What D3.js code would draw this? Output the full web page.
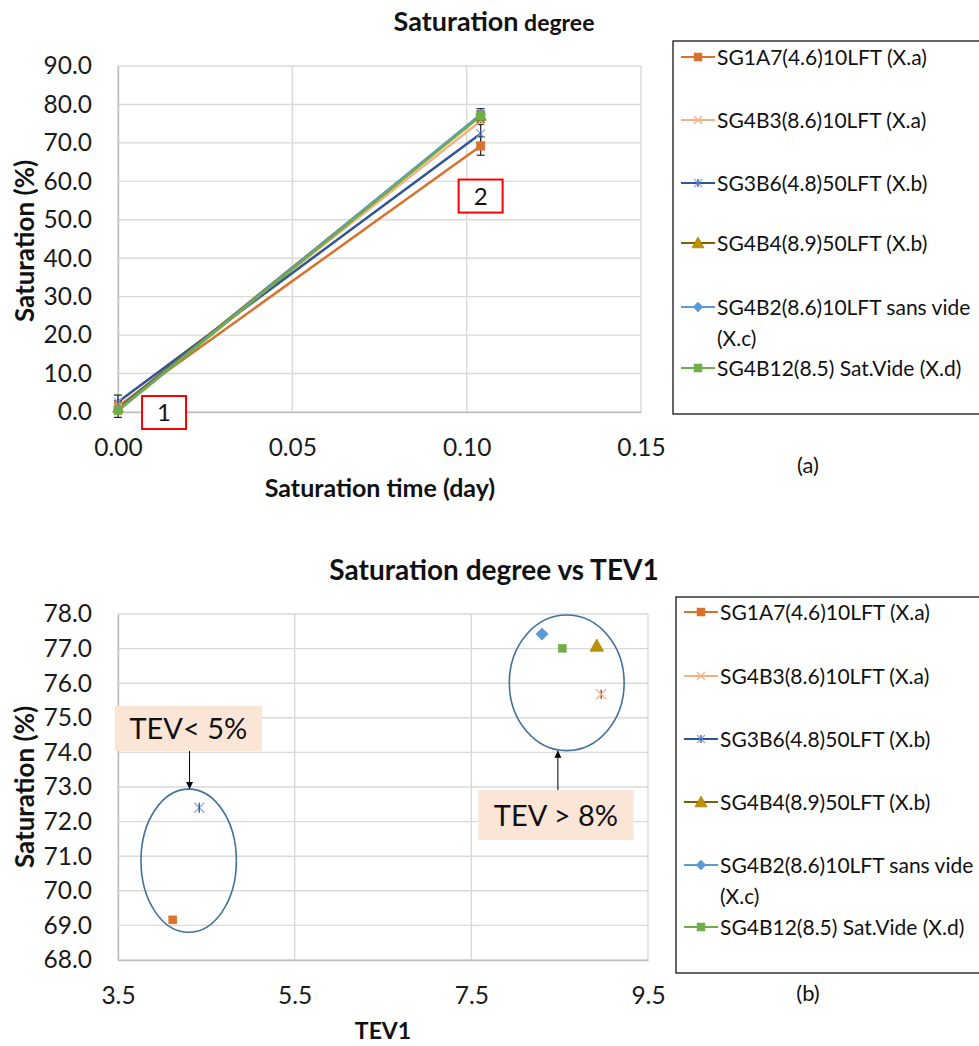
<!DOCTYPE html>
<html>
<head>
<meta charset="utf-8">
<script src="https://cdn.jsdelivr.net/npm/d3@7"></script>
<style>
  html, body { margin: 0; padding: 0; background: #fff; }
  svg { display: block; font-family: Lato, "Open Sans", sans-serif; }
</style>
</head>
<body>
<svg id="fig" width="979" height="1046"></svg>
<script>
// ---- data ----
const seriesNames = [
  "SG1A7(4.6)10LFT (X.a)",
  "SG4B3(8.6)10LFT (X.a)",
  "SG3B6(4.8)50LFT (X.b)",
  "SG4B4(8.9)50LFT (X.b)",
  "SG4B2(8.6)10LFT sans vide (X.c)",
  "SG4B12(8.5) Sat.Vide (X.d)"
];
const timeDays = [0, 0.104];
// saturation (%) at each time, one row per series
const satStart = [1.5, 1.2, 2.6, 1.0, 0.5, 0.3];
const satEnd   = [69.2, 75.7, 72.4, 77.1, 77.4, 77.0];
const errStart = [2.9, 0.3, 0.3, 0.3, 0.3, 0.3];
const errEnd   = [2.4, 0.3, 2.4, 1.2, 1.5, 0.5];
// TEV1 of each specimen and its final saturation
const tev1     = [4.12, 8.97, 4.42, 8.92, 8.30, 8.53];
const satTev   = [69.16, 75.68, 72.40, 77.08, 77.42, 77.01];
const errTev   = [0, 0.13, 0, 0, 0, 0];

const timeTicks = [0, 0.05, 0.10, 0.15];
const satTicks  = [0, 10, 20, 30, 40, 50, 60, 70, 80, 90];
const tevTicks  = [3.5, 5.5, 7.5, 9.5];
const satTevTicks = [68, 69, 70, 71, 72, 73, 74, 75, 76, 77, 78];

// ---- styles ----
const lineColors   = ["#D9712D", "#F4B183", "#2F5597", "#7F6000", "#5B9BD5", "#70AD47"];
const markerFill   = ["#D9712D", "none", "none", "#BF9000", "#5B9BD5", "#70AD47"];
const markerStroke = ["#D9712D", "#F4B183", "#8FAADC", "#BF9000", "#5B9BD5", "#70AD47"];
const markerType   = ["square", "x", "star", "triangle", "diamond", "square"];

const svg = d3.select("#fig");
const defs = svg.append("defs");
defs.append("marker").attr("id", "ah").attr("viewBox", "0 0 10 10").attr("refX", 10).attr("refY", 5)
  .attr("markerWidth", 7).attr("markerHeight", 8).attr("orient", "auto")
  .append("path").attr("d", "M0,0L10,5L0,10Z").attr("fill", "#000");

function marker(g, i, cx, cy, s) {
  const t = markerType[i];
  const f = markerFill[i], st = markerStroke[i];
  const h = s / 2;
  if (t === "square") {
    g.append("rect").attr("x", cx - h).attr("y", cy - h).attr("width", s).attr("height", s)
      .attr("fill", f).attr("stroke", st).attr("stroke-width", 0.5);
  } else if (t === "diamond") {
    const d = h * 1.25;
    g.append("path").attr("d", `M${cx},${cy - d}L${cx + d},${cy}L${cx},${cy + d}L${cx - d},${cy}Z`)
      .attr("fill", f).attr("stroke", st).attr("stroke-width", 0.5);
  } else if (t === "triangle") {
    const d = h * 1.35;
    g.append("path").attr("d", `M${cx},${cy - d}L${cx + d},${cy + d * 0.8}L${cx - d},${cy + d * 0.8}Z`)
      .attr("fill", f).attr("stroke", "#9C7600").attr("stroke-width", 0.6);
  } else if (t === "x" || t === "star") {
    g.append("path").attr("d", `M${cx - h},${cy - h}L${cx + h},${cy + h}M${cx - h},${cy + h}L${cx + h},${cy - h}`)
      .attr("stroke", st).attr("stroke-width", 1.3).attr("fill", "none");
    if (t === "star") {
      g.append("path").attr("d", `M${cx},${cy - h}L${cx},${cy + h}`)
        .attr("stroke", "#2F5597").attr("stroke-width", 1.3);
    }
  }
}

function gridAndAxes(g, x, y, xTicks, yTicks, xFmt, yFmt) {
  const [x0, x1] = x.range();
  const [y0, y1] = y.range();
  g.append("g").selectAll("line").data(yTicks).join("line")
    .attr("x1", x0).attr("x2", x1).attr("y1", d => y(d)).attr("y2", d => y(d))
    .attr("stroke", "#D9D9D9").attr("stroke-width", 1.4);
  g.append("g").selectAll("line").data(xTicks).join("line")
    .attr("x1", d => x(d)).attr("x2", d => x(d)).attr("y1", y0).attr("y2", y1)
    .attr("stroke", "#D9D9D9").attr("stroke-width", 1.4);

  const ax = g.append("g").attr("transform", `translate(0,${y0})`)
    .call(d3.axisBottom(x).tickValues(xTicks).tickFormat(xFmt).tickSize(0).tickPadding(27));
  ax.select(".domain").attr("stroke", "#BFBFBF").attr("stroke-width", 1.4);
  ax.selectAll("text").attr("font-size", 24.5).attr("fill", "#1a1a1a").attr("font-family", "Lato");

  const ay = g.append("g").attr("transform", `translate(${x0},0)`)
    .call(d3.axisLeft(y).tickValues(yTicks).tickFormat(yFmt).tickSize(0).tickPadding(26));
  ay.select(".domain").attr("stroke", "#BFBFBF").attr("stroke-width", 1.4);
  ay.selectAll("text").attr("font-size", 24.5).attr("fill", "#1a1a1a").attr("font-family", "Lato");
}

function legend(g, x0, y0, w, h, rows) {
  g.append("rect").attr("x", x0).attr("y", y0).attr("width", w).attr("height", h)
    .attr("fill", "#fff").attr("stroke", "#000").attr("stroke-width", 1.2);
  rows.forEach((cy, i) => {
    const lx = x0 + 8;
    g.append("line").attr("x1", lx).attr("x2", lx + 34).attr("y1", cy).attr("y2", cy)
      .attr("stroke", lineColors[i]).attr("stroke-width", 2.2);
    marker(g, i, lx + 17, cy, i === 3 ? 9 : 8);
    const t = g.append("text").attr("x", lx + 36).attr("y", cy + 7.5)
      .attr("font-size", 21).attr("fill", "#111");
    const parts = seriesNames[i].includes("sans vide")
      ? ["SG4B2(8.6)10LFT sans vide", "(X.c)"] : [seriesNames[i]];
    parts.forEach((p, k) => t.append("tspan").attr("x", lx + 36).attr("dy", k === 0 ? 0 : 31).text(p));
  });
}

// ================= (a) saturation vs time =================
{
  const g = svg.append("g");
  const x = d3.scaleLinear().domain([0, 0.15]).range([118, 641]);
  const y = d3.scaleLinear().domain([0, 90]).range([412, 66]);
  gridAndAxes(g, x, y, timeTicks, satTicks, d3.format(".2f"), d3.format(".1f"));

  const line = d3.line().x(d => x(d[0])).y(d => y(d[1]));
  seriesNames.forEach((n, i) => {
    const pts = [[timeDays[0], satStart[i]], [timeDays[1], satEnd[i]]];
    g.append("path").attr("d", line(pts)).attr("fill", "none")
      .attr("stroke", lineColors[i]).attr("stroke-width", 2.5);
  });
  // error bars
  const errs = [];
  seriesNames.forEach((n, i) => {
    errs.push([timeDays[0], satStart[i], errStart[i]]);
    errs.push([timeDays[1], satEnd[i], errEnd[i]]);
  });
  const eb = g.append("g").attr("stroke", "#222").attr("stroke-width", 1.2);
  errs.forEach(([t, v, e]) => {
    const cx = x(t);
    eb.append("line").attr("x1", cx).attr("x2", cx).attr("y1", y(v - e)).attr("y2", y(v + e));
    eb.append("line").attr("x1", cx - 4).attr("x2", cx + 4).attr("y1", y(v + e)).attr("y2", y(v + e));
    eb.append("line").attr("x1", cx - 4).attr("x2", cx + 4).attr("y1", y(v - e)).attr("y2", y(v - e));
  });
  seriesNames.forEach((n, i) => {
    marker(g, i, x(timeDays[0]), y(satStart[i]), 8);
    marker(g, i, x(timeDays[1]), y(satEnd[i]), 8.5);
  });

  // step labels
  const steps = [{label: "1", t: 0.0132, v: 0.0}, {label: "2", t: 0.104, v: 56.3}];
  steps.forEach(s => {
    const cx = x(s.t), cy = y(s.v);
    g.append("rect").attr("x", cx - 22).attr("y", cy - 16).attr("width", 44).attr("height", 33)
      .attr("fill", "#fff").attr("stroke", "#FF0000").attr("stroke-width", 2);
    g.append("text").attr("x", cx).attr("y", cy + 9).attr("text-anchor", "middle")
      .attr("font-size", 24).attr("fill", "#111").text(s.label);
  });

  const title = g.append("text").attr("x", 494).attr("y", 31).attr("text-anchor", "middle")
    .attr("font-weight", "bold").attr("fill", "#111");
  title.append("tspan").attr("font-size", 27).text("Saturation");
  title.append("tspan").attr("font-size", 23).text(" degree");

  g.append("text").attr("x", 380).attr("y", 497).attr("text-anchor", "middle")
    .attr("font-weight", "bold").attr("font-size", 25).attr("fill", "#111").text("Saturation time (day)");
  g.append("text").attr("transform", "translate(34,241) rotate(-90)").attr("text-anchor", "middle")
    .attr("font-weight", "bold").attr("font-size", 26).attr("fill", "#111").text("Saturation (%)");

  legend(g, 673, 41, 330, 373, [57, 120, 183, 243, 307, 368]);
  g.append("text").attr("x", 808).attr("y", 473).attr("text-anchor", "middle")
    .attr("font-size", 22).attr("fill", "#111").text("(a)");
}

// ================= (b) saturation vs TEV1 =================
{
  const g = svg.append("g");
  const x = d3.scaleLinear().domain([3.5, 9.5]).range([118, 648]);
  const y = d3.scaleLinear().domain([68, 78]).range([960, 614]);
  gridAndAxes(g, x, y, tevTicks, satTevTicks, d3.format(".1f"), d3.format(".1f"));

  // groups of specimens by void content
  const groups = [
    {cx: 4.30, cy: 70.87, rx: 0.54, ry: 2.07},
    {cx: 8.58, cy: 76.01, rx: 0.65, ry: 1.96}
  ];
  groups.forEach(e => {
    g.append("ellipse").attr("cx", x(e.cx)).attr("cy", y(e.cy))
      .attr("rx", x(e.cx + e.rx) - x(e.cx)).attr("ry", y(e.cy) - y(e.cy + e.ry))
      .attr("fill", "none").attr("stroke", "#41719C").attr("stroke-width", 1.6);
  });

  seriesNames.forEach((n, i) => {
    if (errTev[i] > 0) {
      const cx = x(tev1[i]);
      g.append("line").attr("x1", cx).attr("x2", cx)
        .attr("y1", y(satTev[i] - errTev[i])).attr("y2", y(satTev[i] + errTev[i]))
        .attr("stroke", "#333").attr("stroke-width", 1.2);
    }
    marker(g, i, x(tev1[i]), y(satTev[i]), markerType[i] === "square" ? 8 : 10);
  });

  // callouts: box top-left corner (data units), box size (px), arrow x and tip value
  const callouts = [
    {text: "TEV< 5%", bx: 3.465, by: 75.34, bw: 147, bh: 45, ax: 4.31, tip: 72.94, up: false},
    {text: "TEV > 8%", bx: 7.58, by: 72.91, bw: 155, bh: 50, ax: 8.48, tip: 74.05, up: true}
  ];
  callouts.forEach(c => {
    const X = x(c.bx), Y = y(c.by);
    g.append("rect").attr("x", X).attr("y", Y).attr("width", c.bw).attr("height", c.bh).attr("fill", "#FBE5D6");
    g.append("text").attr("x", X + c.bw / 2).attr("y", Y + c.bh / 2 + 10.5).attr("text-anchor", "middle")
      .attr("font-size", 29).attr("fill", "#111").text(c.text);
    const start = c.up ? Y : Y + c.bh;
    g.append("line").attr("x1", x(c.ax)).attr("x2", x(c.ax)).attr("y1", start).attr("y2", y(c.tip))
      .attr("stroke", "#000").attr("stroke-width", 1).attr("marker-end", "url(#ah)");
  });

  g.append("text").attr("x", 494).attr("y", 580).attr("text-anchor", "middle")
    .attr("font-weight", "bold").attr("font-size", 28).attr("fill", "#111").text("Saturation degree vs TEV1");
  g.append("text").attr("x", 383).attr("y", 1039).attr("text-anchor", "middle")
    .attr("font-weight", "bold").attr("font-size", 23).attr("fill", "#111").text("TEV1");
  g.append("text").attr("transform", "translate(34,787) rotate(-90)").attr("text-anchor", "middle")
    .attr("font-weight", "bold").attr("font-size", 26).attr("fill", "#111").text("Saturation (%)");

  legend(g, 676, 597, 330, 376, [612, 676, 739, 802, 865, 927]);
  g.append("text").attr("x", 808).attr("y", 1001).attr("text-anchor", "middle")
    .attr("font-size", 22).attr("fill", "#111").text("(b)");
}
</script>
</body>
</html>
